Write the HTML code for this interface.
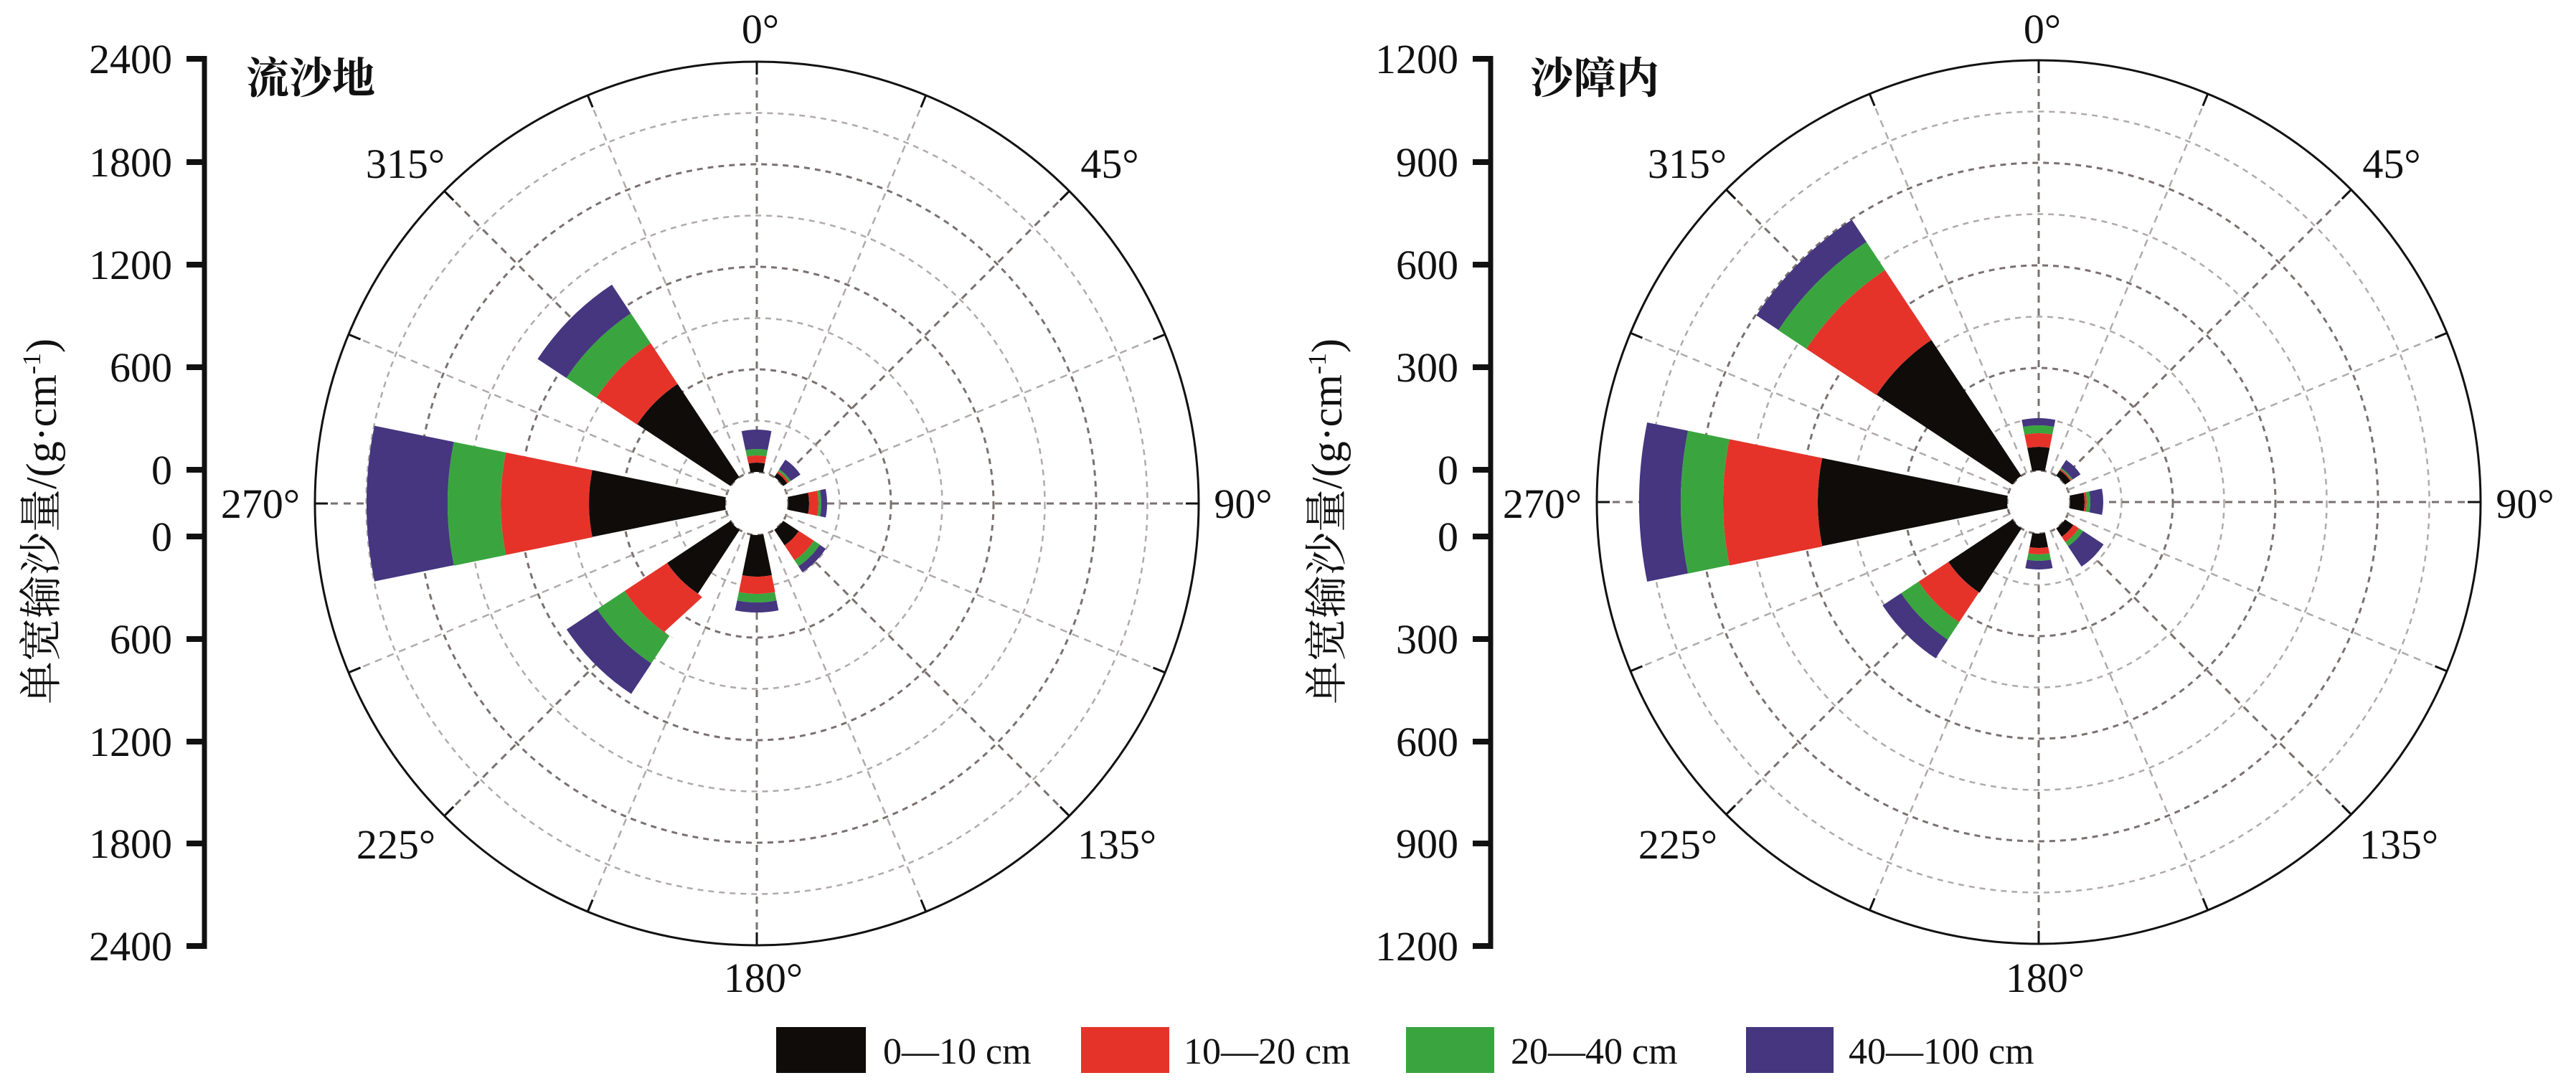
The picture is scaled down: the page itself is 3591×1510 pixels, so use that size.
<!DOCTYPE html>
<html><head><meta charset="utf-8"><style>
html,body{margin:0;padding:0;background:#fff;}
svg{display:block;}
text{font-family:"Liberation Serif","Noto Serif CJK SC",serif;fill:#111;}
</style></head><body>
<svg width="3591" height="1510" viewBox="0 0 3591 1510" xmlns="http://www.w3.org/2000/svg">
<defs>
<g id="grid">
  <g fill="none" stroke-dasharray="8 7">
    <circle r="44" stroke="#7a7070" stroke-width="3"/>
    <circle r="115.5" stroke="#b0aaaa" stroke-width="2.5"/>
    <circle r="187" stroke="#7a7070" stroke-width="3"/>
    <circle r="258.5" stroke="#b0aaaa" stroke-width="2.5"/>
    <circle r="330" stroke="#7a7070" stroke-width="3"/>
    <circle r="401.5" stroke="#b0aaaa" stroke-width="2.5"/>
    <circle r="473" stroke="#7a7070" stroke-width="3"/>
    <circle r="544.5" stroke="#b0aaaa" stroke-width="2.5"/>
  </g>
  <g stroke-dasharray="10 8">
    <g stroke="#7a7070" stroke-width="3">
      <line x1="0" y1="-44" x2="0" y2="-616"/>
      <line x1="0" y1="-44" x2="0" y2="-616" transform="rotate(45)"/>
      <line x1="0" y1="-44" x2="0" y2="-616" transform="rotate(90)"/>
      <line x1="0" y1="-44" x2="0" y2="-616" transform="rotate(135)"/>
      <line x1="0" y1="-44" x2="0" y2="-616" transform="rotate(180)"/>
      <line x1="0" y1="-44" x2="0" y2="-616" transform="rotate(225)"/>
      <line x1="0" y1="-44" x2="0" y2="-616" transform="rotate(270)"/>
      <line x1="0" y1="-44" x2="0" y2="-616" transform="rotate(315)"/>
    </g>
    <g stroke="#b0aaaa" stroke-width="2.5">
      <line x1="0" y1="-44" x2="0" y2="-616" transform="rotate(22.5)"/>
      <line x1="0" y1="-44" x2="0" y2="-616" transform="rotate(67.5)"/>
      <line x1="0" y1="-44" x2="0" y2="-616" transform="rotate(112.5)"/>
      <line x1="0" y1="-44" x2="0" y2="-616" transform="rotate(157.5)"/>
      <line x1="0" y1="-44" x2="0" y2="-616" transform="rotate(202.5)"/>
      <line x1="0" y1="-44" x2="0" y2="-616" transform="rotate(247.5)"/>
      <line x1="0" y1="-44" x2="0" y2="-616" transform="rotate(292.5)"/>
      <line x1="0" y1="-44" x2="0" y2="-616" transform="rotate(337.5)"/>
    </g>
  </g>
  <g stroke="#111" stroke-width="3">
    <line x1="0" y1="-598" x2="0" y2="-616"/>
    <line x1="0" y1="-598" x2="0" y2="-616" transform="rotate(22.5)"/>
    <line x1="0" y1="-598" x2="0" y2="-616" transform="rotate(45)"/>
    <line x1="0" y1="-598" x2="0" y2="-616" transform="rotate(67.5)"/>
    <line x1="0" y1="-598" x2="0" y2="-616" transform="rotate(90)"/>
    <line x1="0" y1="-598" x2="0" y2="-616" transform="rotate(112.5)"/>
    <line x1="0" y1="-598" x2="0" y2="-616" transform="rotate(135)"/>
    <line x1="0" y1="-598" x2="0" y2="-616" transform="rotate(157.5)"/>
    <line x1="0" y1="-598" x2="0" y2="-616" transform="rotate(180)"/>
    <line x1="0" y1="-598" x2="0" y2="-616" transform="rotate(202.5)"/>
    <line x1="0" y1="-598" x2="0" y2="-616" transform="rotate(225)"/>
    <line x1="0" y1="-598" x2="0" y2="-616" transform="rotate(247.5)"/>
    <line x1="0" y1="-598" x2="0" y2="-616" transform="rotate(270)"/>
    <line x1="0" y1="-598" x2="0" y2="-616" transform="rotate(292.5)"/>
    <line x1="0" y1="-598" x2="0" y2="-616" transform="rotate(315)"/>
    <line x1="0" y1="-598" x2="0" y2="-616" transform="rotate(337.5)"/>
  </g>
  <circle r="616" fill="none" stroke="#111" stroke-width="3"/>
</g>
</defs>

<!-- LEFT PLOT -->
<g transform="translate(1055,702)">
  <use href="#grid"/>
  <g fill="none" stroke-dasharray="23 337">
    <!-- N -->
    <g transform="rotate(-101.5)">
      <circle r="50.5" stroke-width="13" stroke="#100c0a" pathLength="360"/>
      <circle r="62" stroke-width="10" stroke="#e5332a" pathLength="360"/>
      <circle r="71.5" stroke-width="9" stroke="#3aa53f" pathLength="360"/>
      <circle r="89.5" stroke-width="27" stroke="#45367f" pathLength="360"/>
    </g>
    <!-- NE -->
    <g transform="rotate(-56.5)">
      <circle r="47.5" stroke-width="7" stroke="#100c0a" pathLength="360"/>
      <circle r="52.5" stroke-width="3" stroke="#e5332a" pathLength="360"/>
      <circle r="55.5" stroke-width="3" stroke="#3aa53f" pathLength="360"/>
      <circle r="65" stroke-width="16" stroke="#45367f" pathLength="360"/>
    </g>
    <!-- E -->
    <g transform="rotate(-11.5)">
      <circle r="58.5" stroke-width="29" stroke="#100c0a" pathLength="360"/>
      <circle r="79.5" stroke-width="13" stroke="#e5332a" pathLength="360"/>
      <circle r="88" stroke-width="4" stroke="#3aa53f" pathLength="360"/>
      <circle r="94" stroke-width="8" stroke="#45367f" pathLength="360"/>
    </g>
    <!-- SE -->
    <g transform="rotate(33.5)">
      <circle r="57" stroke-width="26" stroke="#100c0a" pathLength="360"/>
      <circle r="82.5" stroke-width="25" stroke="#e5332a" pathLength="360"/>
      <circle r="100" stroke-width="10" stroke="#3aa53f" pathLength="360"/>
      <circle r="110" stroke-width="10" stroke="#45367f" pathLength="360"/>
    </g>
    <!-- S -->
    <g transform="rotate(78.5)">
      <circle r="73" stroke-width="58" stroke="#100c0a" pathLength="360"/>
      <circle r="114" stroke-width="24" stroke="#e5332a" pathLength="360"/>
      <circle r="132" stroke-width="12" stroke="#3aa53f" pathLength="360"/>
      <circle r="145" stroke-width="14" stroke="#45367f" pathLength="360"/>
    </g>
    <!-- SW -->
    <g transform="rotate(123.5)">
      <circle r="97" stroke-width="106" stroke="#100c0a" pathLength="360"/>
      <circle r="185.5" stroke-width="71" stroke="#e5332a" pathLength="360"/>
      <circle r="244" stroke-width="46" stroke="#3aa53f" pathLength="360"/>
      <circle r="292.5" stroke-width="51" stroke="#45367f" pathLength="360"/>
    </g>
    <!-- W -->
    <g transform="rotate(168.5)">
      <circle r="139" stroke-width="190" stroke="#100c0a" pathLength="360"/>
      <circle r="295.5" stroke-width="123" stroke="#e5332a" pathLength="360"/>
      <circle r="394" stroke-width="74" stroke="#3aa53f" pathLength="360"/>
      <circle r="487.5" stroke-width="113" stroke="#45367f" pathLength="360"/>
    </g>
    <!-- NW -->
    <g transform="rotate(213.5)">
      <circle r="122" stroke-width="156" stroke="#100c0a" pathLength="360"/>
      <circle r="234" stroke-width="68" stroke="#e5332a" pathLength="360"/>
      <circle r="293" stroke-width="50" stroke="#3aa53f" pathLength="360"/>
      <circle r="342" stroke-width="48" stroke="#45367f" pathLength="360"/>
    </g>
  </g>
</g>

<!-- RIGHT PLOT -->
<g transform="translate(2842,700)">
  <use href="#grid"/>
  <g fill="none" stroke-dasharray="23 337">
    <g transform="rotate(-101.5)">
      <circle r="60.5" stroke-width="33" stroke="#100c0a" pathLength="360"/>
      <circle r="86.5" stroke-width="19" stroke="#e5332a" pathLength="360"/>
      <circle r="101.5" stroke-width="11" stroke="#3aa53f" pathLength="360"/>
      <circle r="112" stroke-width="10" stroke="#45367f" pathLength="360"/>
    </g>
    <g transform="rotate(-56.5)">
      <circle r="48.5" stroke-width="9" stroke="#100c0a" pathLength="360"/>
      <circle r="54" stroke-width="2" stroke="#e5332a" pathLength="360"/>
      <circle r="56" stroke-width="2" stroke="#3aa53f" pathLength="360"/>
      <circle r="63.5" stroke-width="13" stroke="#45367f" pathLength="360"/>
    </g>
    <g transform="rotate(-11.5)">
      <circle r="54" stroke-width="20" stroke="#100c0a" pathLength="360"/>
      <circle r="65.5" stroke-width="3" stroke="#e5332a" pathLength="360"/>
      <circle r="69.5" stroke-width="5" stroke="#3aa53f" pathLength="360"/>
      <circle r="81" stroke-width="18" stroke="#45367f" pathLength="360"/>
    </g>
    <g transform="rotate(33.5)">
      <circle r="51" stroke-width="14" stroke="#100c0a" pathLength="360"/>
      <circle r="62.5" stroke-width="9" stroke="#e5332a" pathLength="360"/>
      <circle r="70.5" stroke-width="7" stroke="#3aa53f" pathLength="360"/>
      <circle r="91" stroke-width="34" stroke="#45367f" pathLength="360"/>
    </g>
    <g transform="rotate(78.5)">
      <circle r="54" stroke-width="20" stroke="#100c0a" pathLength="360"/>
      <circle r="68.5" stroke-width="9" stroke="#e5332a" pathLength="360"/>
      <circle r="77.5" stroke-width="9" stroke="#3aa53f" pathLength="360"/>
      <circle r="88" stroke-width="12" stroke="#45367f" pathLength="360"/>
    </g>
    <g transform="rotate(123.5)">
      <circle r="97.5" stroke-width="107" stroke="#100c0a" pathLength="360"/>
      <circle r="176" stroke-width="50" stroke="#e5332a" pathLength="360"/>
      <circle r="215.5" stroke-width="29" stroke="#3aa53f" pathLength="360"/>
      <circle r="245.5" stroke-width="31" stroke="#45367f" pathLength="360"/>
    </g>
    <g transform="rotate(168.5)">
      <circle r="176" stroke-width="264" stroke="#100c0a" pathLength="360"/>
      <circle r="374" stroke-width="132" stroke="#e5332a" pathLength="360"/>
      <circle r="469.5" stroke-width="59" stroke="#3aa53f" pathLength="360"/>
      <circle r="528" stroke-width="58" stroke="#45367f" pathLength="360"/>
    </g>
    <g transform="rotate(213.5)">
      <circle r="157.5" stroke-width="227" stroke="#100c0a" pathLength="360"/>
      <circle r="329.5" stroke-width="117" stroke="#e5332a" pathLength="360"/>
      <circle r="411.5" stroke-width="47" stroke="#3aa53f" pathLength="360"/>
      <circle r="453.5" stroke-width="37" stroke="#45367f" pathLength="360"/>
    </g>
  </g>
</g>

<!-- LEFT AXIS -->
<g stroke="#111" fill="none">
  <line x1="285" y1="78" x2="285" y2="1323" stroke-width="7"/>
  <g stroke-width="8">
    <line x1="260" y1="82" x2="288" y2="82"/><line x1="260" y1="226" x2="288" y2="226"/>
    <line x1="260" y1="369" x2="288" y2="369"/><line x1="260" y1="512" x2="288" y2="512"/>
    <line x1="260" y1="655" x2="288" y2="655"/><line x1="260" y1="748" x2="288" y2="748"/>
    <line x1="260" y1="891" x2="288" y2="891"/><line x1="260" y1="1034" x2="288" y2="1034"/>
    <line x1="260" y1="1176" x2="288" y2="1176"/><line x1="260" y1="1319" x2="288" y2="1319"/>
  </g>
  <line x1="2078" y1="78" x2="2078" y2="1323" stroke-width="7"/>
  <g stroke-width="8">
    <line x1="2053" y1="82" x2="2081" y2="82"/><line x1="2053" y1="226" x2="2081" y2="226"/>
    <line x1="2053" y1="369" x2="2081" y2="369"/><line x1="2053" y1="512" x2="2081" y2="512"/>
    <line x1="2053" y1="655" x2="2081" y2="655"/><line x1="2053" y1="748" x2="2081" y2="748"/>
    <line x1="2053" y1="891" x2="2081" y2="891"/><line x1="2053" y1="1034" x2="2081" y2="1034"/>
    <line x1="2053" y1="1176" x2="2081" y2="1176"/><line x1="2053" y1="1319" x2="2081" y2="1319"/>
  </g>
</g>
<g font-size="58" text-anchor="end">
  <text x="240" y="102">2400</text><text x="240" y="246">1800</text>
  <text x="240" y="389">1200</text><text x="240" y="532">600</text>
  <text x="240" y="675">0</text><text x="240" y="768">0</text>
  <text x="240" y="911">600</text><text x="240" y="1054">1200</text>
  <text x="240" y="1196">1800</text><text x="240" y="1339">2400</text>

  <text x="2033" y="102">1200</text><text x="2033" y="246">900</text>
  <text x="2033" y="389">600</text><text x="2033" y="532">300</text>
  <text x="2033" y="675">0</text><text x="2033" y="768">0</text>
  <text x="2033" y="911">300</text><text x="2033" y="1054">600</text>
  <text x="2033" y="1196">900</text><text x="2033" y="1339">1200</text>
</g>

<!-- Y titles -->
<text font-size="60" text-anchor="middle" transform="translate(78,727) rotate(-90)">单宽输沙量/(g·cm<tspan font-size="36" dy="-22">-1</tspan><tspan dy="22">)</tspan></text>
<text font-size="60" text-anchor="middle" transform="translate(1870,727) rotate(-90)">单宽输沙量/(g·cm<tspan font-size="36" dy="-22">-1</tspan><tspan dy="22">)</tspan></text>

<!-- Panel titles -->
<text x="343" y="130" font-size="60" font-weight="bold">流沙地</text>
<text x="2133" y="130" font-size="60" font-weight="bold">沙障内</text>

<!-- angle labels -->
<g font-size="58" text-anchor="middle">
  <text x="1060" y="60">0°</text>
  <text x="565" y="248">315°</text>
  <text x="1547" y="248">45°</text>
  <text x="363" y="722">270°</text>
  <text x="1733" y="722">90°</text>
  <text x="552" y="1197">225°</text>
  <text x="1557" y="1197">135°</text>
  <text x="1064" y="1383">180°</text>

  <text x="2847" y="60">0°</text>
  <text x="2352" y="248">315°</text>
  <text x="3334" y="248">45°</text>
  <text x="2150" y="722">270°</text>
  <text x="3520" y="722">90°</text>
  <text x="2339" y="1197">225°</text>
  <text x="3344" y="1197">135°</text>
  <text x="2851" y="1383">180°</text>
</g>

<!-- legend -->
<rect x="1082" y="1432" width="125" height="64" fill="#100c0a"/>
<text x="1231" y="1483" font-size="52">0—10 cm</text>
<rect x="1507" y="1432" width="123" height="64" fill="#e5332a"/>
<text x="1650" y="1483" font-size="52">10—20 cm</text>
<rect x="1960" y="1432" width="123" height="64" fill="#3aa53f"/>
<text x="2106" y="1483" font-size="52">20—40 cm</text>
<rect x="2434" y="1432" width="122" height="64" fill="#45367f"/>
<text x="2577" y="1483" font-size="52">40—100 cm</text>
</svg>
</body></html>
